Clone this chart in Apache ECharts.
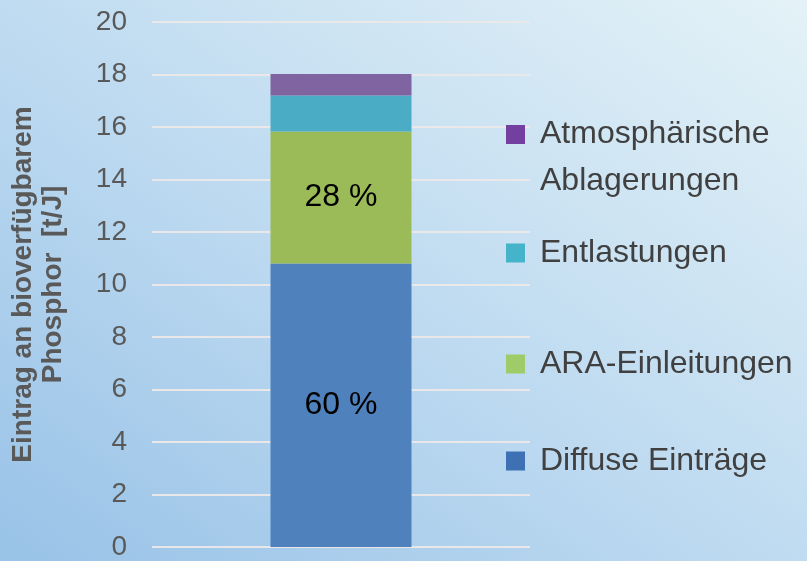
<!DOCTYPE html>
<html>
<head>
<meta charset="utf-8">
<script src="https://cdn.jsdelivr.net/npm/echarts@6/dist/echarts.min.js"></script>
<style>
html,body{margin:0;padding:0;}
body{width:807px;height:561px;background:linear-gradient(to top right,#98c2e7 0%,#bcd9f0 45%,#e4f2f7 100%);}
#c{width:807px;height:561px;}
</style>
</head>
<body>
<div id="c"></div>
<script>
const categories = ['Phosphor'];
const seriesNames = ['Diffuse Einträge', 'ARA-Einleitungen', 'Entlastungen', 'Atmosphärische Ablagerungen'];
const diffuse = [10.8];
const ara = [5.03];
const entlastungen = [1.37];
const atmos = [0.82];
const pctLabels = ['60 %', '28 %', '', ''];
const yTicks = [0, 2, 4, 6, 8, 10, 12, 14, 16, 18, 20];

const barColors = ['#4F81BD', '#9BBB59', '#4BACC6', '#8064A2'];
const iconColors = ['#3E71B4', '#9FCB68', '#45B4CB', '#7440A0'];
const values = [diffuse, ara, entlastungen, atmos];

const chart = echarts.init(document.getElementById('c'));
const font = 'Liberation Sans, Arial, sans-serif';

const legendTops = [443, 346, 235, 64];
const legends = seriesNames.map((n, i) => {
  const multi = i === 3;
  return {
    data: [{ name: n, itemStyle: { color: iconColors[i] } }],
    left: 506,
    top: legendTops[i],
    padding: 0,
    itemWidth: 19,
    itemHeight: 19,
    itemGap: 0,
    selectedMode: false,
    icon: 'rect',
    formatter: multi ? '\nAtmosphärische\nAblagerungen' : '{name}',
    textStyle: {
      fontFamily: font, fontSize: 32, color: '#404040',
      lineHeight: multi ? 47 : 36,
      padding: [0, 0, 0, 10]
    }
  };
});

chart.setOption({
  animation: false,
  backgroundColor: 'transparent',
  grid: { left: 152, right: 277, top: 22, bottom: 13 },
  legend: legends,
  xAxis: {
    type: 'category',
    data: categories,
    axisLine: { show: false },
    axisTick: { show: false },
    axisLabel: { show: false }
  },
  yAxis: {
    type: 'value',
    min: yTicks[0],
    max: yTicks[yTicks.length - 1],
    interval: 2,
    name: 'Eintrag an bioverfügbarem\nPhosphor  [t/J]',
    nameLocation: 'middle',
    nameGap: 84,
    nameTextStyle: { fontFamily: font, fontSize: 28, fontWeight: 'bold', color: '#595959', lineHeight: 30 },
    axisLine: { show: false },
    axisTick: { show: false },
    axisLabel: { fontFamily: font, fontSize: 28, color: '#595959', margin: 25 },
    splitLine: { lineStyle: { color: 'rgba(236,232,232,0.95)', width: 2 } }
  },
  series: seriesNames.map((n, i) => ({
    name: n,
    type: 'bar',
    stack: 'total',
    barWidth: 141,
    data: values[i],
    itemStyle: { color: barColors[i] },
    label: {
      show: pctLabels[i] !== '',
      position: 'inside',
      formatter: pctLabels[i],
      fontFamily: font,
      fontSize: 32,
      color: '#000000'
    }
  }))
});
</script>
</body>
</html>
